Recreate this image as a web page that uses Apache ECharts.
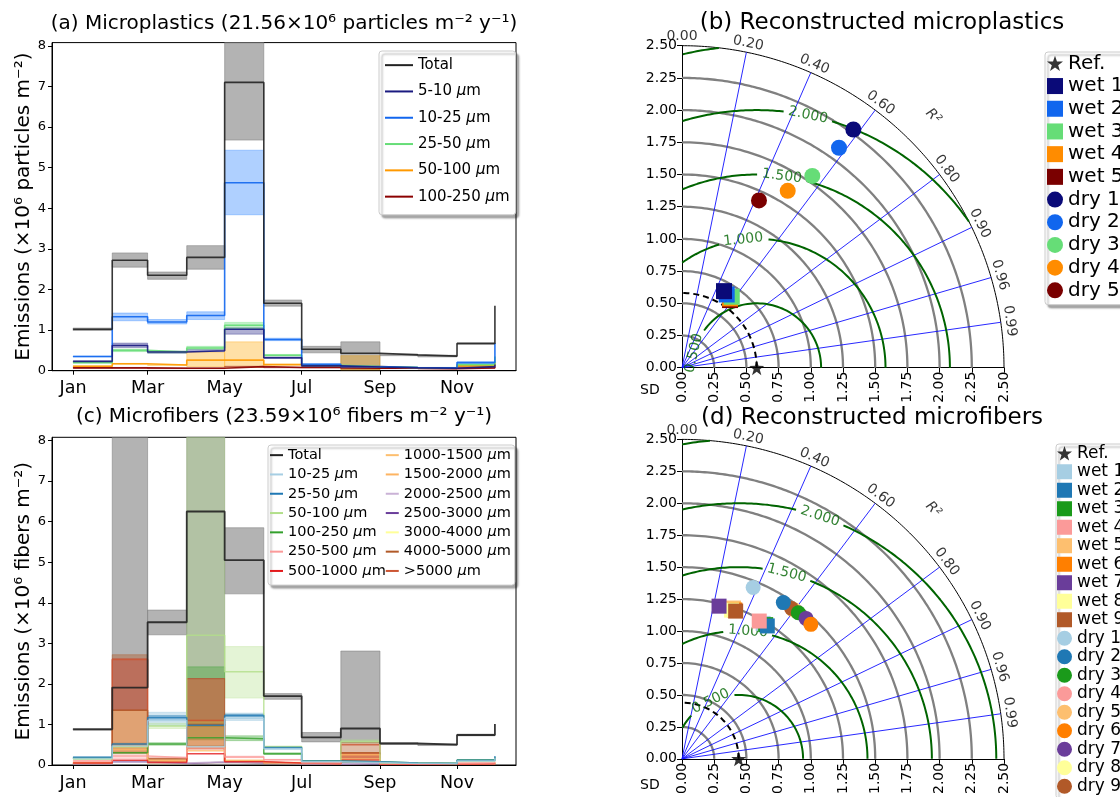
<!DOCTYPE html>
<html><head><meta charset="utf-8">
<script src="https://cdn.jsdelivr.net/npm/echarts@6/dist/echarts.min.js"></script>
<style>html,body{margin:0;padding:0;background:#fff}#c{width:1120px;height:797px}</style>
</head><body><div id="c"></div>
<script>
// ---------------- DATA ----------------
// x: day of year of the 1st of each month (Jan..Dec)
const monthStart = [0,31,59,90,120,151,181,212,243,273,304,334];
const monthTickValues = [0,59,120,181,243,304];
const monthTickLabels = ['Jan','Mar','May','Jul','Sep','Nov'];
const emissionTicks = [0,1,2,3,4,5,6,7,8];

// (a) Microplastics, x10^6 particles m-2 (monthly)
const a_total    = [1.02,2.72,2.35,2.79,7.10,1.66,0.53,0.43,0.39,0.36,0.67,1.60];
const a_total_lo = [0.99,2.55,2.25,2.50,5.68,1.59,0.44,0.03,0.37,0.34,0.65,1.55];
const a_total_hi = [1.05,2.90,2.43,3.08,8.60,1.74,0.60,0.71,0.41,0.38,0.69,1.65];
const a_5_10     = [0.23,0.62,0.46,0.49,1.02,0.32,0.12,0.09,0.07,0.06,0.10,0.15];
const a_5_10_lo  = [0.22,0.57,0.43,0.47,0.90,0.30,0.11,0.08,0.06,0.05,0.09,0.14];
const a_5_10_hi  = [0.24,0.68,0.48,0.52,1.06,0.34,0.13,0.10,0.08,0.07,0.11,0.16];
const a_10_25    = [0.35,1.33,1.20,1.36,4.63,0.77,0.16,0.10,0.08,0.07,0.20,0.68];
const a_10_25_lo = [0.34,1.23,1.15,1.26,3.84,0.74,0.15,0.09,0.07,0.06,0.18,0.65];
const a_10_25_hi = [0.36,1.42,1.26,1.45,5.43,0.80,0.17,0.11,0.09,0.08,0.22,0.71];
const a_25_50    = [0.20,0.50,0.46,0.56,1.12,0.38,0.13,0.10,0.08,0.07,0.15,0.35];
const a_25_50_lo = [0.19,0.47,0.44,0.53,1.04,0.36,0.12,0.09,0.07,0.06,0.14,0.33];
const a_25_50_hi = [0.21,0.53,0.48,0.60,1.19,0.40,0.14,0.11,0.09,0.08,0.16,0.37];
const a_50_100   = [0.11,0.17,0.14,0.26,0.26,0.15,0.11,0.10,0.07,0.06,0.12,0.20];
const a_50_100_lo= [0.10,0.16,0.13,0.10,0.08,0.14,0.10,0.02,0.06,0.05,0.11,0.18];
const a_50_100_hi= [0.12,0.18,0.15,0.45,0.71,0.16,0.12,0.37,0.08,0.07,0.13,0.22];
const a_100_250  = [0.07,0.07,0.06,0.06,0.10,0.08,0.08,0.06,0.06,0.05,0.07,0.10];
const a_100_250_lo=[0.06,0.06,0.05,0.05,0.09,0.07,0.07,0.05,0.05,0.04,0.06,0.09];
const a_100_250_hi=[0.08,0.08,0.07,0.07,0.11,0.09,0.09,0.07,0.07,0.06,0.08,0.11];

// (c) Microfibers, x10^6 fibers m-2 (monthly)
const c_total    = [0.88,1.91,3.52,6.25,5.05,1.70,0.68,0.90,0.53,0.50,0.74,1.01];
const c_total_lo = [0.86,1.35,3.21,2.13,4.22,1.62,0.57,0.55,0.51,0.48,0.72,0.98];
const c_total_hi = [0.90,9.50,3.82,9.50,5.85,1.76,0.80,2.81,0.55,0.52,0.76,1.04];
const c_10_25    = [0.16,0.47,1.10,0.45,1.15,0.40,0.08,0.06,0.04,0.04,0.10,0.18];
const c_10_25_lo = [0.15,0.44,0.97,0.42,1.10,0.38,0.07,0.05,0.03,0.03,0.09,0.17];
const c_10_25_hi = [0.17,0.50,1.30,0.48,1.28,0.42,0.09,0.07,0.05,0.05,0.11,0.19];
const c_25_50    = [0.19,0.52,1.17,0.98,1.22,0.43,0.10,0.08,0.05,0.04,0.12,0.22];
const c_25_50_lo = [0.18,0.50,1.13,0.95,1.19,0.41,0.09,0.07,0.04,0.03,0.11,0.21];
const c_25_50_hi = [0.20,0.54,1.22,1.01,1.25,0.45,0.11,0.09,0.06,0.05,0.13,0.23];
const c_50_100   = [0.15,0.45,0.96,3.20,2.30,0.45,0.10,0.58,0.05,0.04,0.10,0.15];
const c_50_100_lo= [0.14,0.42,0.90,0.95,1.65,0.43,0.09,0.55,0.04,0.03,0.09,0.14];
const c_50_100_hi= [0.16,0.48,1.03,9.50,2.92,0.47,0.11,0.62,0.06,0.05,0.11,0.16];
const c_100_250  = [0.17,0.30,0.52,0.67,0.65,0.28,0.10,0.08,0.05,0.04,0.12,0.20];
const c_100_250_lo=[0.16,0.28,0.49,0.62,0.60,0.26,0.09,0.07,0.04,0.03,0.11,0.19];
const c_100_250_hi=[0.18,0.32,0.55,2.42,0.72,0.30,0.11,0.09,0.06,0.05,0.13,0.21];
const c_250_500  = [0.10,0.22,0.18,0.42,0.20,0.13,0.05,0.10,0.03,0.03,0.05,0.08];
const c_250_500_lo=[0.09,0.15,0.16,0.38,0.18,0.12,0.04,0.09,0.02,0.02,0.04,0.07];
const c_250_500_hi=[0.11,0.30,0.20,0.46,0.22,0.14,0.06,0.11,0.04,0.04,0.06,0.09];
const c_500_1000 = [0.05,0.12,0.06,0.28,0.08,0.05,0.03,0.12,0.02,0.02,0.03,0.04];
const c_1000_1500= [0.06,0.45,0.12,0.35,0.12,0.06,0.04,0.15,0.03,0.03,0.04,0.06];
const c_1500_2000= [0.05,0.38,0.10,0.45,0.10,0.05,0.03,0.25,0.02,0.02,0.03,0.05];
const c_1500_2000_lo=[0.04,0.30,0.09,0.40,0.09,0.04,0.02,0.08,0.01,0.01,0.02,0.04];
const c_1500_2000_hi=[0.06,1.35,0.11,1.10,0.11,0.06,0.04,0.30,0.03,0.03,0.04,0.06];
const c_2000_2500= [0.04,0.10,0.05,0.08,0.06,0.04,0.03,0.05,0.02,0.02,0.03,0.04];
const c_2500_3000= [0.03,0.08,0.04,0.07,0.05,0.03,0.02,0.04,0.02,0.02,0.02,0.03];
const c_3000_4000= [0.03,0.09,0.04,0.07,0.05,0.03,0.02,0.05,0.02,0.02,0.02,0.03];
const c_4000_5000= [0.05,1.35,0.15,1.00,0.10,0.05,0.03,0.30,0.02,0.02,0.03,0.05];
const c_4000_5000_lo=[0.04,0.30,0.13,0.40,0.09,0.04,0.02,0.08,0.01,0.01,0.02,0.04];
const c_4000_5000_hi=[0.06,2.72,0.17,2.13,0.11,0.06,0.04,0.55,0.03,0.03,0.04,0.06];
const c_gt5000   = [0.04,2.60,0.10,1.10,0.08,0.04,0.03,0.50,0.02,0.02,0.03,0.04];
const c_gt5000_lo= [0.03,1.35,0.09,1.10,0.07,0.03,0.02,0.08,0.01,0.01,0.02,0.03];
const c_gt5000_hi= [0.05,2.62,0.11,2.13,0.09,0.05,0.04,0.30,0.03,0.03,0.04,0.05];

// Taylor diagrams: standard deviation and (labelled R^2) angular coordinate
const r2GridTicks = [0, 0.2, 0.4, 0.6, 0.8, 0.9, 0.96, 0.99];
const sdGridRadii = [0.25,0.5,0.75,1.0,1.25,1.5,1.75,2.0,2.25];
const sdMax = 2.5;
const rmsLevels = [0.5,1.0,1.5,2.0,2.5];

const b_refSD = 0.58;
const b_wetSD = [0.678,0.666,0.673,0.655,0.644];
const b_wetR2 = [0.481,0.521,0.574,0.570,0.579];
const b_drySD = [2.278,2.098,1.800,1.600,1.430];
const b_dryR2 = [0.584,0.581,0.562,0.513,0.418];

const d_refSD = 0.44;
const d_wetSD = [1.233,1.233,1.235,1.234,1.246,1.235,1.229,1.226,1.229];
const d_wetR2 = [0.511,0.537,0.526,0.486,0.321,0.332,0.234,0.314,0.339];
const d_drySD = [1.450,1.454,1.457,1.456,1.454,1.452,1.461,1.452,1.452];
const d_dryR2 = [0.381,0.541,0.620,0.604,0.598,0.689,0.659,0.592,0.586];

// ---------------- STYLE / LAYOUT ----------------
const FONT = 'DejaVu Sans';
const b_colors = ['#0a0a78','#1166ee','#66dd77','#ff8c00','#7a0000'];
const d_colors = ['#a6cee3','#1f78b4','#1a9a1a','#fb9a99','#fdbf6f','#ff7f00','#6a3d9a','#ffff99','#b15928'];
const STAR = 'path://M0,-10L2.35,-3.24L9.51,-3.09L3.8,1.24L5.88,8.09L0,4L-5.88,8.09L-3.8,1.24L-9.51,-3.09L-2.35,-3.24Z';

const series = [];
const pts = vals => monthStart.map((x,i)=>[x, vals[i]]);
function rgba(hex, a){ const n=parseInt(hex.slice(1),16); return `rgba(${(n>>16)&255},${(n>>8)&255},${n&255},${a})`; }

// uncertainty band: one rectangle per month (step-post fill)
function addBand(g, lo, hi, color, alpha){
  const data = [];
  for(let i=0;i<monthStart.length-1;i++) data.push([monthStart[i], monthStart[i+1], lo[i], hi[i]]);
  const fill = rgba(color, alpha), stroke = rgba(color, Math.min(1, alpha*0.9));
  series.push({type:'custom', xAxisIndex:g, yAxisIndex:g, silent:true, z:2, data,
    encode:{x:[0,1], y:[2,3]},
    renderItem:(params, api)=>{
      const p0 = api.coord([api.value(0), api.value(3)]);
      const p1 = api.coord([api.value(1), api.value(2)]);
      const shape = echarts.graphic.clipRectByRect(
        {x:p0[0], y:p0[1], width:p1[0]-p0[0], height:p1[1]-p0[1]}, params.coordSys);
      return shape && {type:'rect', shape, style:{fill, stroke, lineWidth:1}};
    }});
}
function addLine(g, name, vals, color, width, opacity, z){
  series.push({type:'line', name, xAxisIndex:g, yAxisIndex:g, step:'end', symbol:'none', data: pts(vals),
    color, itemStyle:{color}, lineStyle:{color, width, opacity}, z, silent:true});
}

// (a)
const aSpec = [
  ['a:Total', a_total, a_total_lo, a_total_hi, '#222222', '#808080', 0.6],
  ['a:5-10 μm', a_5_10, a_5_10_lo, a_5_10_hi, '#1a1a80', '#1a1a80', 0.35],
  ['a:10-25 μm', a_10_25, a_10_25_lo, a_10_25_hi, '#1166ee', '#1a78ff', 0.35],
  ['a:25-50 μm', a_25_50, a_25_50_lo, a_25_50_hi, '#66dd77', '#66dd77', 0.4],
  ['a:50-100 μm', a_50_100, a_50_100_lo, a_50_100_hi, '#ff9900', '#ffa500', 0.35],
  ['a:100-250 μm', a_100_250, a_100_250_lo, a_100_250_hi, '#8b0000', '#8b0000', 0.35]
];
aSpec.forEach(s=>addBand(0, s[2], s[3], s[5], s[6]));
aSpec.slice().reverse().forEach(s=>addLine(0, s[0], s[1], s[4], 1.6, 0.9, s[0]==='a:Total'?6:4));

// (c)
const cSpec = [
  ['c:Total', c_total, c_total_lo, c_total_hi, '#222222', '#808080', 0.6],
  ['c:10-25 μm', c_10_25, c_10_25_lo, c_10_25_hi, '#a6cee3', '#a6cee3', 0.5],
  ['c:25-50 μm', c_25_50, c_25_50_lo, c_25_50_hi, '#1f78b4', '#1f78b4', 0.35],
  ['c:50-100 μm', c_50_100, c_50_100_lo, c_50_100_hi, '#b2df8a', '#b2df8a', 0.35],
  ['c:100-250 μm', c_100_250, c_100_250_lo, c_100_250_hi, '#33a02c', '#33a02c', 0.35],
  ['c:250-500 μm', c_250_500, c_250_500_lo, c_250_500_hi, '#fb9a99', '#fb9a99', 0.35],
  ['c:500-1000 μm', c_500_1000, null, null, '#e31a1c'],
  ['c:1000-1500 μm', c_1000_1500, null, null, '#fdbf6f'],
  ['c:1500-2000 μm', c_1500_2000, c_1500_2000_lo, c_1500_2000_hi, '#fdb462', '#ff7f00', 0.35],
  ['c:2000-2500 μm', c_2000_2500, null, null, '#cab2d6'],
  ['c:2500-3000 μm', c_2500_3000, null, null, '#6a3d9a'],
  ['c:3000-4000 μm', c_3000_4000, null, null, '#ffff99'],
  ['c:4000-5000 μm', c_4000_5000, c_4000_5000_lo, c_4000_5000_hi, '#b15928', '#b15928', 0.4],
  ['c:>5000 μm', c_gt5000, c_gt5000_lo, c_gt5000_hi, '#cc5533', '#cc3322', 0.35]
];
cSpec.forEach(s=>{ if(s[2]) addBand(2, s[2], s[3], s[5], s[6]); });
cSpec.slice().reverse().forEach(s=>addLine(2, s[0], s[1], s[4], s[0]==='c:Total'?1.8:1.5, s[0]==='c:Total'?0.9:0.8, s[0]==='c:Total'?6:4));

// Taylor helpers
const deg = Math.PI/180;
function decoLine(g, data, color, width, type, z){
  series.push({type:'line', xAxisIndex:g, yAxisIndex:g, data, symbol:'none', clip:false, silent:true,
    lineStyle:{color, width, type: type||'solid'}, z: z||1});
}
function arc(r, a0, a1){ const p=[]; for(let k=0;k<=180;k++){ const t=(a0+(a1-a0)*k/180)*deg; p.push([r*Math.cos(t), r*Math.sin(t)]);} return p; }
function contourSegs(ref, L, gapAng){
  const segs=[]; let cur=[];
  for(let k=0;k<=1440;k++){
    const phi = k*0.125*deg, x = ref+L*Math.cos(phi), y = L*Math.sin(phi);
    const inside = x>=-1e-9 && y>=-1e-9 && x*x+y*y <= sdMax*sdMax+1e-9;
    const inGap = gapAng!=null && Math.abs(phi-gapAng*deg) < 0.19/L;
    if(inside && !inGap) cur.push([x,y]); else { if(cur.length>1) segs.push(cur); cur=[]; }
  }
  if(cur.length>1) segs.push(cur);
  return segs;
}
function taylor(g, p, ref, wetSD, wetR2, drySD, dryR2, colors, wetOrder, dryOrder, labelAng, mSize){
  sdGridRadii.forEach(r=>decoLine(g, arc(r,0,90), '#808080', 2.3));
  decoLine(g, arc(sdMax,0,90), '#000', 1);
  r2GridTicks.filter(c=>c>0).forEach(c=>decoLine(g, [[0,0],[sdMax*c, sdMax*Math.sqrt(1-c*c)]], '#1010ff', 0.9));
  rmsLevels.forEach(L=>{
    contourSegs(ref, L, labelAng[L]).forEach(s=>decoLine(g, s, '#006400', 2, 'solid', 2));
  });
  decoLine(g, arc(ref,0,90), '#000', 2, [6,4], 3);
  // angular tick labels
  const angLab = r2GridTicks.map(c=>{ const t=Math.acos(c); const r=2.57;
    return {value:[r*Math.cos(t), r*Math.sin(t)], name:c.toFixed(2), label:{rotate: t/deg-90}}; });
  const t45 = 45*deg;
  angLab.push({value:[2.76*Math.cos(t45), 2.76*Math.sin(t45)], name:'R²', label:{rotate:-45, fontStyle:'italic'}});
  series.push({type:'scatter', xAxisIndex:g, yAxisIndex:g, data:angLab, symbolSize:1, itemStyle:{color:'rgba(0,0,0,0)'}, clip:false, silent:true, z:4,
    label:{show:true, position:'inside', formatter:'{b}', fontSize:14, color:'#000', fontFamily:FONT}});
  // contour labels
  const cl = Object.keys(labelAng).map(k=>{ const L=+k, a=labelAng[k]*deg;
    return {value:[ref+L*Math.cos(a), L*Math.sin(a)], name:L.toFixed(3), label:{rotate: labelAng[k]-90}}; });
  series.push({type:'scatter', xAxisIndex:g, yAxisIndex:g, data:cl, symbolSize:1, itemStyle:{color:'rgba(0,0,0,0)'}, clip:false, silent:true, z:4,
    label:{show:true, position:'inside', formatter:'{b}', fontSize:14, color:'#006400', fontFamily:FONT}});
  // markers
  const pos = (sd,c)=>[sd*c, sd*Math.sqrt(1-c*c)];
  wetOrder.forEach(i=>series.push({type:'scatter', name:p+':wet '+(i+1), xAxisIndex:g, yAxisIndex:g, symbol:'rect', symbolSize:mSize,
    data:[pos(wetSD[i], wetR2[i])], itemStyle:{color:colors[i], opacity:1}, clip:false, silent:true, z:5}));
  dryOrder.forEach(i=>series.push({type:'scatter', name:p+':dry '+(i+1), xAxisIndex:g, yAxisIndex:g, symbol:'circle', symbolSize:mSize,
    data:[pos(drySD[i], dryR2[i])], itemStyle:{color:colors[i], opacity:1}, clip:false, silent:true, z:5}));
  series.push({type:'scatter', name:p+':Ref.', xAxisIndex:g, yAxisIndex:g, symbol:STAR, symbolSize:15,
    data:[[ref,0]], itemStyle:{color:'#000'}, clip:false, silent:true, z:6});
}
taylor(1, 'b', b_refSD, b_wetSD, b_wetR2, b_drySD, b_dryR2, b_colors, [4,3,2,1,0], [0,1,2,3,4],
  {0.5:167, 1:96, 1.5:82.5, 2:78.5}, 16);
taylor(3, 'd', d_refSD, d_wetSD, d_wetR2, d_drySD, d_dryR2, d_colors, [0,2,1,3,4,5,7,6,8], [3,4,7,8,0,1,2,6,5],
  {0.5:115.7, 1:85.9, 1.5:75.6, 2:71.6}, 15);

// ---------------- AXES ----------------
const txt = (size, extra)=>Object.assign({fontSize:size, color:'#000', fontFamily:FONT}, extra||{});
const leftX = g => ({type:'value', gridIndex:g, min:-16.7, max:350.7, splitLine:{show:false},
  axisLine:{show:true, onZero:false, lineStyle:{color:'#000', width:1}},
  axisTick:{show:true, customValues:monthTickValues, length:4, lineStyle:{color:'#000'}},
  axisLabel:Object.assign({show:true, customValues:monthTickValues, margin:9,
    formatter:v=>{ let k=0; monthTickValues.forEach((m,i)=>{ if(Math.abs(m-v)<Math.abs(monthTickValues[k]-v)) k=i;}); return monthTickLabels[k]; }}, txt(17.5))});
const leftY = (g, name) => ({type:'value', gridIndex:g, min:0, max:8.08, splitLine:{show:false},
  name, nameLocation:'middle', nameGap:15, nameTextStyle:txt(20),
  axisLine:{show:true, onZero:false, lineStyle:{color:'#000', width:1}},
  axisTick:{show:true, customValues:emissionTicks, length:4, lineStyle:{color:'#000'}},
  axisLabel:Object.assign({show:true, customValues:emissionTicks, margin:6, formatter:v=>String(Math.round(v))}, txt(13))});
const tX = g => ({type:'value', gridIndex:g, min:0, max:sdMax, interval:0.25, splitLine:{show:false},
  axisLine:{onZero:false, lineStyle:{color:'#000'}}, axisTick:{length:5, lineStyle:{color:'#000'}},
  axisLabel:Object.assign({rotate:90, margin:4, formatter:v=>v.toFixed(2)}, txt(14))});
const tY = g => ({type:'value', gridIndex:g, min:0, max:sdMax, interval:0.25, splitLine:{show:false},
  axisLine:{onZero:false, lineStyle:{color:'#000'}}, axisTick:{length:5, lineStyle:{color:'#000'}},
  axisLabel:Object.assign({margin:5, formatter:v=>v.toFixed(2)}, txt(14))});

const muFmt = name => name.slice(2).replace(' μm', ' {i|μ}m');
function legendBox(extra){
  return Object.assign({orient:'vertical', itemGap:0, selectedMode:false, backgroundColor:'#fff',
    borderColor:'#cccccc', borderWidth:1, borderRadius:3,
    shadowColor:'rgba(0,0,0,0.35)', shadowBlur:2, shadowOffsetX:3, shadowOffsetY:3}, extra);
}

const option = {
  animation:false,
  backgroundColor:'#fff',
  title:[
    {text:'(a) Microplastics (21.56×10⁶ particles m⁻² y⁻¹)', left:284, top:14, textAlign:'center', padding:0, textStyle:txt(20,{fontWeight:'normal'})},
    {text:'(b) Reconstructed microplastics', left:882, top:12, textAlign:'center', padding:0, textStyle:txt(23,{fontWeight:'normal'})},
    {text:'(c) Microfibers (23.59×10⁶ fibers m⁻² y⁻¹)', left:284, top:407, textAlign:'center', padding:0, textStyle:txt(20,{fontWeight:'normal'})},
    {text:'(d) Reconstructed microfibers', left:872, top:407, textAlign:'center', padding:0, textStyle:txt(23,{fontWeight:'normal'})}
  ],
  grid:[
    {left:52, top:42.6, width:464, height:328.1, show:true, borderColor:'#000', borderWidth:1, backgroundColor:'rgba(0,0,0,0)'},
    {left:682, top:45.7, width:322, height:322},
    {left:52, top:437.3, width:464, height:327.7, show:true, borderColor:'#000', borderWidth:1, backgroundColor:'rgba(0,0,0,0)'},
    {left:682, top:439.4, width:322, height:322.3}
  ],
  xAxis:[leftX(0), tX(1), leftX(2), tX(3)],
  yAxis:[leftY(0,'Emissions (×10⁶ particles m⁻²)'), tY(1), leftY(2,'Emissions (×10⁶ fibers m⁻²)'), tY(3)],
  legend:[
    legendBox({left:379, top:51, padding:[1,6,5,6], itemWidth:28, itemHeight:2, icon:'rect',
      data: aSpec.map(s=>s[0]), formatter: muFmt,
      textStyle:txt(15,{lineHeight:26.3, rich:{i:txt(15,{fontStyle:'italic', lineHeight:26.3})}})}),
    legendBox({left:268, top:445, padding:[0.5,4,4.5,2], height:136, itemWidth:13, itemHeight:2, icon:'rect',
      data: cSpec.map(s=>s[0]), formatter: muFmt,
      textStyle:txt(14.5,{lineHeight:19.3, rich:{i:txt(14.5,{fontStyle:'italic', lineHeight:19.3})}})}),
    legendBox({left:1045, top:52, padding:[0,4,3,2], itemWidth:16, itemHeight:16,
      data: ['b:Ref.'].concat([1,2,3,4,5].map(i=>'b:wet '+i), [1,2,3,4,5].map(i=>'b:dry '+i)),
      formatter: n=>n.slice(2), textStyle:txt(20,{lineHeight:22.7})}),
    legendBox({left:1056, top:444, height:420, padding:[0,4,3,1], itemWidth:15, itemHeight:15,
      data: ['d:Ref.'].concat([1,2,3,4,5,6,7,8,9].map(i=>'d:wet '+i), [1,2,3,4,5,6,7,8,9].map(i=>'d:dry '+i)),
      formatter: n=>n.slice(2), textStyle:txt(17,{lineHeight:18.5})})
  ],
  graphic:[
    {type:'text', left:640, top:383, style:{text:'SD', font:'14px "DejaVu Sans"', fill:'#000'}},
    {type:'text', left:640, top:778, style:{text:'SD', font:'14px "DejaVu Sans"', fill:'#000'}}
  ],
  series
};
const chart = echarts.init(document.getElementById('c'), null, {renderer:'canvas', width:1120, height:797});
chart.setOption(option);
</script>
</body></html>
